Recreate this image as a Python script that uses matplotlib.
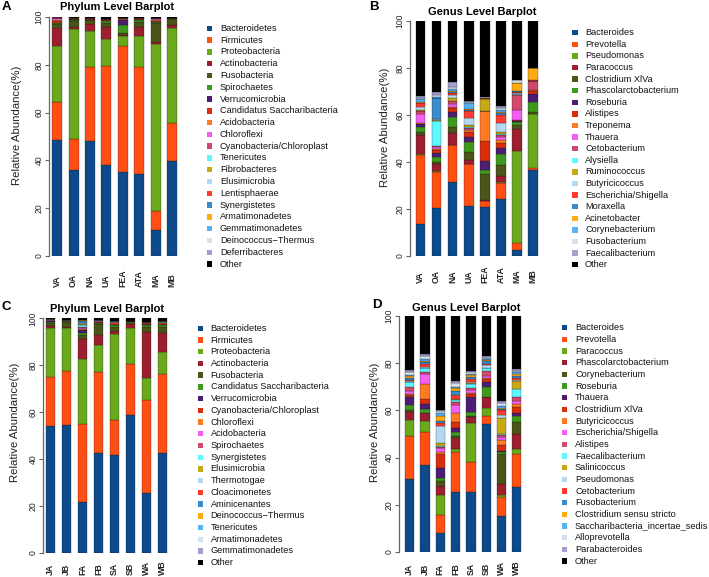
import numpy as np
import matplotlib
matplotlib.use('Agg')
import matplotlib.pyplot as plt
from matplotlib.patches import Rectangle

plt.rcParams['font.family'] = ['Liberation Sans', 'DejaVu Sans']

W, H = 709, 577

palette = ['#0c4a8a', '#ff4f12', '#6aa81c', '#9b1f2e', '#4a5518', '#3d9a1f', '#4d1d74',
           '#d82e0c', '#ff7a22', '#f25ff2', '#d1496b', '#5ff8ff', '#c8a915', '#b5d8f2',
           '#ff3b2f', '#3a8bc9', '#ffab12', '#55b3f5', '#d5e1ef', '#a09fcf', '#000000']

# ---------------- Panel A : phylum ----------------
samples_A = ['VA', 'OA', 'NA', 'UA', 'FEA', 'ATA', 'MA', 'MB']
taxa_A = ['Bacteroidetes', 'Firmicutes', 'Proteobacteria', 'Actinobacteria', 'Fusobacteria',
          'Spirochaetes', 'Verrucomicrobia', 'Candidatus Saccharibacteria', 'Acidobacteria',
          'Chloroflexi', 'Cyanobacteria/Chloroplast', 'Tenericutes', 'Fibrobacteres',
          'Elusimicrobia', 'Lentisphaerae', 'Synergistetes', 'Armatimonadetes',
          'Gemmatimonadetes', 'Deinococcus\u2212Thermus', 'Deferribacteres', 'Other']
A_Bacteroidetes = [48.5, 36.0, 48.3, 38.0, 35.3, 34.5, 11.0, 39.7]
A_Firmicutes = [16.0, 12.8, 30.8, 41.3, 52.5, 44.5, 8.0, 15.8]
A_Proteobacteria = [23.5, 46.0, 15.0, 11.5, 4.2, 13.0, 69.5, 40.0]
A_Actinobacteria = [7.5, 1.2, 3.0, 5.0, 0.3, 4.0, 1.0, 1.0]
A_Fusobacteria = [1.5, 2.3, 1.5, 1.8, 0.8, 2.0, 8.0, 2.8]
A_Spirochaetes = [0.3, 0.3, 0.2, 0.8, 3.5, 0.8, 0.3, 0.1]
A_Verrucomicrobia = [0.2, 0.1, 0.1, 0.1, 2.0, 0.1, 0.3, 0.05]
A_Candidatus = [0.8, 0.3, 0.3, 0.3, 0.3, 0.3, 0.4, 0.05]
A_Acidobacteria = [0.5, 0.1, 0.1, 0.1, 0.3, 0.1, 0.2, 0.0]
A_Chloroflexi = [0.6, 0.1, 0.1, 0.1, 0.1, 0.1, 0.6, 0.0]
A_Cyanobacteria = [0.2, 0.1, 0.1, 0.1, 0.1, 0.1, 0.2, 0.0]
A_Tenericutes = [0.05, 0.05, 0.05, 0.05, 0.05, 0.05, 0.05, 0.0]
A_Fibrobacteres = [0.05, 0.05, 0.05, 0.05, 0.05, 0.05, 0.05, 0.0]
A_Elusimicrobia = [0.05, 0.05, 0.05, 0.05, 0.05, 0.05, 0.05, 0.0]
A_Lentisphaerae = [0.05, 0.05, 0.05, 0.05, 0.05, 0.05, 0.05, 0.0]
A_Synergistetes = [0.05, 0.05, 0.05, 0.05, 0.05, 0.05, 0.05, 0.0]
A_Armatimonadetes = [0.0, 0.0, 0.0, 0.0, 0.0, 0.0, 0.0, 0.0]
A_Gemmatimonadetes = [0.0, 0.0, 0.0, 0.0, 0.0, 0.0, 0.0, 0.0]
A_Deinococcus = [0.0, 0.0, 0.0, 0.0, 0.0, 0.0, 0.0, 0.0]
A_Deferribacteres = [0.0, 0.0, 0.0, 0.0, 0.0, 0.0, 0.0, 0.0]
A_Other = [0.15, 0.45, 0.25, 0.65, 0.35, 0.15, 0.25, 0.5]

# ---------------- Panel B : genus ----------------
samples_B = ['VA', 'OA', 'NA', 'UA', 'FEA', 'ATA', 'MA', 'MB']
taxa_B = ['Bacteroides', 'Prevotella', 'Pseudomonas', 'Paracoccus', 'Clostridium XlVa',
          'Phascolarctobacterium', 'Roseburia', 'Alistipes', 'Treponema', 'Thauera',
          'Cetobacterium', 'Alysiella', 'Ruminococcus', 'Butyricicoccus', 'Escherichia/Shigella',
          'Moraxella', 'Acinetobacter', 'Corynebacterium', 'Fusobacterium', 'Faecalibacterium',
          'Other']
B_Bacteroides = [13.8, 20.6, 31.6, 21.4, 20.7, 24.3, 2.6, 36.6]
B_Prevotella = [29.2, 15.3, 15.6, 17.7, 2.7, 6.9, 3.1, 1.0]
B_Pseudomonas = [0.3, 0.2, 0.2, 0.2, 0.1, 0.2, 39.1, 22.7]
B_Paracoccus = [8.2, 3.0, 4.8, 1.6, 0.3, 2.6, 9.1, 0.3]
B_ClostridiumXlVa = [1.2, 1.0, 2.8, 3.5, 11.2, 4.7, 1.8, 0.8]
B_Phascolarctobacterium = [2.3, 2.2, 4.0, 4.0, 1.4, 4.6, 1.2, 4.0]
B_Roseburia = [1.0, 1.5, 2.4, 2.4, 4.1, 2.5, 0.5, 3.4]
B_Alistipes = [0.3, 1.3, 1.4, 2.1, 8.5, 2.1, 0.4, 1.4]
B_Treponema = [0.2, 0.3, 0.5, 0.8, 12.5, 1.5, 0.2, 0.3]
B_Thauera = [4.0, 1.1, 1.5, 0.4, 0.1, 1.2, 4.0, 0.1]
B_Cetobacterium = [1.0, 0.3, 1.0, 0.4, 0.2, 1.0, 6.7, 3.7]
B_Alysiella = [0.2, 10.7, 0.3, 0.2, 0.1, 0.2, 0.1, 0.1]
B_Ruminococcus = [0.5, 0.3, 1.0, 1.2, 5.0, 0.9, 0.2, 0.1]
B_Butyricicoccus = [1.0, 0.3, 1.2, 2.8, 0.1, 3.8, 0.2, 0.1]
B_Escherichia = [1.8, 0.3, 1.2, 2.8, 0.1, 3.3, 0.7, 0.4]
B_Moraxella = [0.3, 8.8, 0.5, 0.6, 0.1, 1.0, 0.2, 0.1]
B_Acinetobacter = [0.3, 0.2, 0.3, 0.3, 0.1, 0.3, 3.5, 4.8]
B_Corynebacterium = [1.0, 0.3, 0.8, 2.5, 0.1, 1.2, 0.2, 0.1]
B_Fusobacterium = [0.8, 1.0, 1.0, 0.8, 0.1, 0.8, 1.2, 0.1]
B_Faecalibacterium = [0.6, 1.0, 2.0, 0.4, 0.1, 0.9, 0.1, 0.1]
B_Other = [32.0, 30.1, 25.9, 33.9, 32.4, 36.0, 24.9, 19.7]

# ---------------- Panel C : phylum ----------------
samples_C = ['JA', 'JB', 'FA', 'FB', 'SA', 'SB', 'WA', 'WB']
taxa_C = ['Bacteroidetes', 'Firmicutes', 'Proteobacteria', 'Actinobacteria', 'Fusobacteria',
          'Candidatus Saccharibacteria', 'Verrucomicrobia', 'Cyanobacteria/Chloroplast',
          'Chloroflexi', 'Acidobacteria', 'Spirochaetes', 'Synergistetes', 'Elusimicrobia',
          'Thermotogae', 'Cloacimonetes', 'Aminicenantes', 'Deinococcus\u2212Thermus',
          'Tenericutes', 'Armatimonadetes', 'Gemmatimonadetes', 'Other']
C_Bacteroidetes = [54.0, 54.5, 21.8, 42.4, 41.7, 58.7, 25.3, 42.4]
C_Firmicutes = [21.1, 23.0, 33.0, 34.6, 14.9, 22.0, 39.8, 33.7]
C_Proteobacteria = [20.6, 18.2, 27.8, 11.6, 36.6, 15.1, 9.3, 9.7]
C_Actinobacteria = [1.2, 0.7, 8.4, 4.3, 1.4, 1.7, 19.6, 8.1]
C_Fusobacteria = [1.2, 1.7, 1.9, 4.5, 1.8, 1.2, 2.4, 2.5]
C_Candidatus = [0.4, 0.4, 0.7, 0.5, 0.6, 0.1, 0.6, 0.6]
C_Verrucomicrobia = [0.2, 0.1, 1.2, 0.2, 0.1, 0.05, 0.2, 0.2]
C_Cyanobacteria = [0.2, 0.2, 0.4, 0.3, 0.4, 0.05, 0.3, 0.4]
C_Chloroflexi = [0.1, 0.1, 0.4, 0.2, 0.3, 0.05, 0.2, 0.3]
C_Acidobacteria = [0.1, 0.05, 0.3, 0.1, 0.6, 0.05, 0.1, 0.1]
C_Spirochaetes = [0.3, 0.1, 0.3, 0.3, 0.2, 0.05, 0.2, 0.2]
C_Synergistetes = [0.05, 0.05, 1.0, 0.1, 0.05, 0.0, 0.1, 0.1]
C_Elusimicrobia = [0.05, 0.05, 0.2, 0.05, 0.1, 0.0, 0.05, 0.1]
C_Thermotogae = [0.05, 0.05, 0.6, 0.05, 0.05, 0.0, 0.05, 0.05]
C_Cloacimonetes = [0.05, 0.05, 0.2, 0.05, 0.05, 0.0, 0.1, 0.2]
C_Aminicenantes = [0.1, 0.05, 0.8, 0.1, 0.1, 0.0, 0.1, 0.1]
C_Deinococcus = [0.05, 0.0, 0.1, 0.05, 0.05, 0.0, 0.05, 0.1]
C_Tenericutes = [0.05, 0.0, 0.1, 0.05, 0.05, 0.0, 0.05, 0.05]
C_Armatimonadetes = [0.0, 0.0, 0.1, 0.0, 0.0, 0.0, 0.0, 0.0]
C_Gemmatimonadetes = [0.0, 0.0, 0.1, 0.0, 0.0, 0.0, 0.0, 0.0]
C_Other = [0.2, 0.7, 0.6, 0.5, 0.9, 0.95, 1.5, 1.1]

# ---------------- Panel D : genus ----------------
samples_D = ['JA', 'JB', 'FA', 'FB', 'SA', 'SB', 'WA', 'WB']
taxa_D = ['Bacteroides', 'Prevotella', 'Paracoccus', 'Phascolarctobacterium', 'Corynebacterium',
          'Roseburia', 'Thauera', 'Clostridium XlVa', 'Butyricicoccus', 'Escherichia/Shigella',
          'Alistipes', 'Faecalibacterium', 'Salinicoccus', 'Pseudomonas', 'Cetobacterium',
          'Fusobacterium', 'Clostridium sensu stricto', 'Saccharibacteria_incertae_sedis',
          'Alloprevotella', 'Parabacteroides', 'Other']
D_Bacteroides = [30.8, 36.9, 7.9, 25.6, 25.3, 54.1, 15.4, 27.4]
D_Prevotella = [18.5, 13.8, 7.8, 16.9, 13.0, 3.5, 7.8, 14.1]
D_Paracoccus = [6.6, 4.8, 8.5, 1.0, 16.5, 3.6, 1.0, 2.0]
D_Phascolarctobacterium = [3.6, 3.3, 3.8, 4.7, 2.5, 4.3, 4.5, 6.4]
D_Corynebacterium = [0.5, 0.3, 2.2, 1.0, 0.3, 0.3, 12.8, 5.3]
D_Roseburia = [2.3, 1.5, 1.3, 1.8, 1.9, 4.3, 1.0, 2.6]
D_Thauera = [3.2, 2.1, 4.2, 1.4, 6.3, 2.1, 0.3, 1.2]
D_ClostridiumXlVa = [1.0, 2.0, 5.8, 2.5, 1.0, 1.2, 2.5, 2.6]
D_Butyricicoccus = [0.5, 6.5, 1.0, 3.9, 0.5, 0.5, 2.2, 1.1]
D_Escherichia = [1.4, 4.2, 1.4, 3.5, 1.3, 0.8, 1.4, 1.4]
D_Alistipes = [1.5, 1.0, 0.7, 1.2, 0.7, 1.8, 0.7, 1.4]
D_Faecalibacterium = [2.0, 1.4, 0.3, 0.9, 1.8, 1.4, 0.3, 3.4]
D_Salinicoccus = [0.3, 0.3, 1.4, 0.3, 0.3, 0.2, 7.0, 3.7]
D_Pseudomonas = [0.3, 0.5, 7.0, 0.3, 0.5, 1.2, 1.0, 0.3]
D_Cetobacterium = [0.5, 1.0, 1.4, 1.4, 1.4, 0.5, 2.1, 1.0]
D_Fusobacterium = [0.6, 1.0, 0.7, 1.8, 1.0, 1.3, 0.8, 0.8]
D_ClostridiumSS = [0.8, 0.5, 2.2, 1.4, 0.5, 0.2, 0.3, 0.8]
D_Saccharibacteria = [0.5, 0.8, 1.4, 0.5, 0.6, 0.4, 0.8, 0.6]
D_Alloprevotella = [1.5, 1.2, 0.7, 1.3, 0.8, 0.6, 1.2, 0.8]
D_Parabacteroides = [0.8, 1.0, 0.3, 1.0, 0.6, 0.9, 1.0, 0.5]
D_Other = [22.8, 15.9, 39.9, 27.6, 23.2, 16.8, 35.9, 22.6]

values_A = [A_Bacteroidetes, A_Firmicutes, A_Proteobacteria, A_Actinobacteria, A_Fusobacteria,
            A_Spirochaetes, A_Verrucomicrobia, A_Candidatus, A_Acidobacteria, A_Chloroflexi,
            A_Cyanobacteria, A_Tenericutes, A_Fibrobacteres, A_Elusimicrobia, A_Lentisphaerae,
            A_Synergistetes, A_Armatimonadetes, A_Gemmatimonadetes, A_Deinococcus,
            A_Deferribacteres, A_Other]
values_B = [B_Bacteroides, B_Prevotella, B_Pseudomonas, B_Paracoccus, B_ClostridiumXlVa,
            B_Phascolarctobacterium, B_Roseburia, B_Alistipes, B_Treponema, B_Thauera,
            B_Cetobacterium, B_Alysiella, B_Ruminococcus, B_Butyricicoccus, B_Escherichia,
            B_Moraxella, B_Acinetobacter, B_Corynebacterium, B_Fusobacterium,
            B_Faecalibacterium, B_Other]
values_C = [C_Bacteroidetes, C_Firmicutes, C_Proteobacteria, C_Actinobacteria, C_Fusobacteria,
            C_Candidatus, C_Verrucomicrobia, C_Cyanobacteria, C_Chloroflexi, C_Acidobacteria,
            C_Spirochaetes, C_Synergistetes, C_Elusimicrobia, C_Thermotogae, C_Cloacimonetes,
            C_Aminicenantes, C_Deinococcus, C_Tenericutes, C_Armatimonadetes,
            C_Gemmatimonadetes, C_Other]
values_D = [D_Bacteroides, D_Prevotella, D_Paracoccus, D_Phascolarctobacterium, D_Corynebacterium,
            D_Roseburia, D_Thauera, D_ClostridiumXlVa, D_Butyricicoccus, D_Escherichia,
            D_Alistipes, D_Faecalibacterium, D_Salinicoccus, D_Pseudomonas, D_Cetobacterium,
            D_Fusobacterium, D_ClostridiumSS, D_Saccharibacteria, D_Alloprevotella,
            D_Parabacteroides, D_Other]

fig = plt.figure(figsize=(W / 100, H / 100), dpi=100)


def fx(px):
    return px / W


def fy(py):
    return 1 - py / H


def panel(box, xlim, samples, values, taxa, title, title_xy, letter, letter_xy,
          ylabel_xy, xlab_bottom, leg_sq_x, leg_txt_x, leg_y0, leg_pitch):
    left, right, top, bottom = box
    ax = fig.add_axes([fx(left), fy(bottom), (right - left) / W, (bottom - top) / H])
    x = np.arange(len(samples))
    base = np.zeros(len(samples))
    for vals, col in zip(values, palette):
        v = np.array(vals, dtype=float)
        ax.bar(x, v, bottom=base, width=0.6, color=col, edgecolor='#1a1a1a',
               linewidth=0.2)
        base = base + v
    ax.set_xlim(*xlim)
    ax.set_ylim(0, 100)
    for s in ['top', 'right', 'bottom']:
        ax.spines[s].set_visible(False)
    ax.spines['left'].set_color('#666666')
    ax.spines['left'].set_linewidth(0.9)
    ax.set_xticks([])
    ax.set_yticks([0, 20, 40, 60, 80, 100])
    ax.tick_params(axis='y', length=2.6, width=0.8, color='#666666', pad=1.2,
                   labelsize=6.2, labelcolor='#222222')
    for lab in ax.get_yticklabels():
        lab.set_rotation(90)
        lab.set_va('center')
    axh = bottom - top
    for xi, s in zip(x, samples):
        ax.text(xi, -(xlab_bottom - bottom) / axh, s, transform=ax.get_xaxis_transform(),
                rotation=90, ha='center', va='bottom', fontsize=6.3, fontweight='bold',
                color='#222222')
    fig.text(fx(title_xy[0]), fy(title_xy[1]), title, ha='center', va='center',
             fontsize=8, fontweight='bold')
    fig.text(fx(letter_xy[0]), fy(letter_xy[1]), letter, ha='left', va='center',
             fontsize=9.5, fontweight='bold')
    fig.text(fx(ylabel_xy[0]), fy(ylabel_xy[1]), 'Relative Abundance(%)', rotation=90,
             ha='center', va='center', fontsize=8.2, color='#222222')
    sq = 5.4
    for i, (name, col) in enumerate(zip(taxa, palette)):
        yc = leg_y0 + i * leg_pitch
        fig.patches.append(Rectangle((fx(leg_sq_x - sq / 2), fy(yc + sq / 2)), sq / W, sq / H,
                                     transform=fig.transFigure, facecolor=col,
                                     edgecolor='none'))
        fig.text(fx(leg_txt_x), fy(yc), name, ha='left', va='center', fontsize=6.6,
                 color='#111111')
    return ax


panel((49, 180.2, 17, 256), (-0.5, 7.5), samples_A, values_A, taxa_A,
      'Phylum Level Barplot', (117, 6.5), 'A', (2, 6.5), (17.5, 125), 287,
      209.5, 220, 28.3, 11.79)
panel((410, 541.2, 21, 256), (-0.65, 7.5), samples_B, values_B, taxa_B,
      'Genus Level Barplot', (482, 12), 'B', (369, 7.5), (385, 127), 283,
      575, 585, 32.7, 11.6)
panel((42.7, 170.4, 318.3, 552.7), (-0.48, 7.5), samples_C, values_C, taxa_C,
      'Phylum Level Barplot', (107, 309), 'C', (2, 307), (15, 422), 575,
      200.5, 210.7, 328.3, 11.72)
panel((398.7, 524.5, 316, 552), (-0.72, 7.5), samples_D, values_D, taxa_D,
      'Genus Level Barplot', (466, 307.5), 'D', (372, 305), (375, 422), 575,
      564.5, 575, 327.7, 11.67)

fig.savefig('out.png', dpi=100)
